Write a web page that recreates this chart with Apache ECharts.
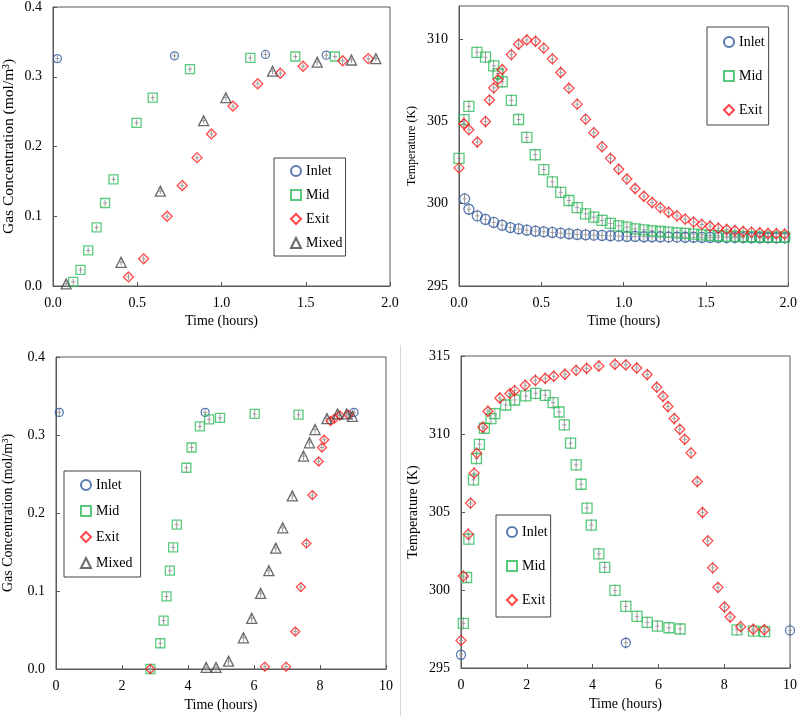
<!DOCTYPE html>
<html>
<head>
<meta charset="utf-8">
<script src="https://cdn.jsdelivr.net/npm/echarts@6/dist/echarts.min.js"></script>
<style>
    html, body { margin: 0; padding: 0; background: #fff; }
    #chart { width: 800px; height: 716px; }
</style>
</head>
<body>
<div id="chart"></div>
<script>
// ---- panel 1 : gas concentration, 0-2 h ----
const p1InletT = [0.026, 0.721, 1.261, 1.622];
const p1InletY = [0.326, 0.330, 0.332, 0.331];
const p1MidT = [0.12, 0.163, 0.209, 0.259, 0.309, 0.359, 0.496, 0.592, 0.813, 1.171, 1.438, 1.673];
const p1MidY = [0.006, 0.023, 0.051, 0.084, 0.119, 0.153, 0.234, 0.270, 0.311, 0.327, 0.329, 0.329];
const p1ExitT = [0.448, 0.538, 0.677, 0.767, 0.855, 0.94, 1.068, 1.215, 1.349, 1.484, 1.719, 1.871];
const p1ExitY = [0.013, 0.039, 0.100, 0.144, 0.184, 0.218, 0.258, 0.290, 0.305, 0.315, 0.323, 0.326];
const p1MixedT = [0.078, 0.404, 0.637, 0.894, 1.026, 1.303, 1.568, 1.771, 1.916];
const p1MixedY = [0.003, 0.034, 0.136, 0.237, 0.270, 0.308, 0.321, 0.324, 0.326];

// ---- panel 2 : temperature, 0-2 h ----
const p2InletT = [0.034, 0.06, 0.111, 0.161, 0.211, 0.262, 0.312, 0.362, 0.412, 0.465, 0.515, 0.567, 0.618, 0.668, 0.718, 0.769, 0.819, 0.869, 0.92, 0.97,
    1.02, 1.07, 1.123, 1.173, 1.223, 1.273, 1.324, 1.374, 1.425, 1.475, 1.525, 1.575, 1.626, 1.676, 1.726, 1.777, 1.827, 1.877, 1.928, 1.978];
const p2InletY = [300.29, 299.66, 299.26, 299.04, 298.86, 298.69, 298.55, 298.47, 298.39, 298.33, 298.29, 298.25, 298.21, 298.17, 298.13, 298.11, 298.09, 298.07, 298.05, 298.03,
    298.01, 298.01, 297.99, 297.99, 297.98, 297.97, 297.97, 297.96, 297.96, 297.95, 297.95, 297.95, 297.94, 297.94, 297.94, 297.93, 297.93, 297.93, 297.93, 297.93];
const p2MidT = [0, 0.03, 0.06, 0.109, 0.161, 0.211, 0.237, 0.262, 0.318, 0.362, 0.412, 0.463, 0.515, 0.567, 0.618, 0.668, 0.718, 0.769, 0.819, 0.869, 0.92,
    0.97, 1.02, 1.07, 1.123, 1.173, 1.223, 1.273, 1.324, 1.374, 1.425, 1.475, 1.525, 1.575, 1.626, 1.676, 1.726, 1.777, 1.827, 1.877, 1.928, 1.978];
const p2MidY = [302.75, 305.1, 305.9, 309.19, 308.89, 308.37, 307.9, 307.4, 306.27, 305.11, 304.02, 302.97, 302.07, 301.32, 300.69, 300.19, 299.76, 299.38, 299.18, 298.98, 298.8,
    298.65, 298.57, 298.47, 298.41, 298.35, 298.31, 298.27, 298.23, 298.19, 298.15, 298.11, 298.07, 298.05, 298.03, 298.01, 298.0, 297.99, 297.98, 297.97, 297.97, 297.96];
const p2ExitT = [0, 0.03, 0.06, 0.111, 0.161, 0.185, 0.211, 0.237, 0.262, 0.318, 0.362, 0.412, 0.465, 0.515, 0.567, 0.618, 0.668, 0.718, 0.769, 0.819, 0.869, 0.92,
    0.97, 1.02, 1.07, 1.123, 1.173, 1.223, 1.273, 1.324, 1.374, 1.425, 1.475, 1.525, 1.575, 1.626, 1.676, 1.726, 1.777, 1.827, 1.877, 1.928, 1.978];
const p2ExitY = [302.17, 304.85, 304.49, 303.74, 304.99, 306.29, 307.03, 307.54, 308.14, 309.05, 309.68, 309.94, 309.86, 309.44, 308.79, 307.96, 307.01, 306.04, 305.13, 304.31, 303.46, 302.75,
    302.09, 301.5, 300.92, 300.45, 300.07, 299.76, 299.48, 299.26, 299.06, 298.88, 298.74, 298.63, 298.51, 298.43, 298.37, 298.31, 298.27, 298.23, 298.19, 298.17, 298.15];

// ---- panel 3 : gas concentration, 0-10 h ----
const p3InletT = [0.1, 4.52, 9.03];
const p3InletY = [0.329, 0.329, 0.329];
const p3MidT = [2.86, 3.16, 3.26, 3.35, 3.45, 3.55, 3.66, 3.95, 4.11, 4.36, 4.64, 4.97, 6.02, 7.35];
const p3MidY = [0.0, 0.033, 0.062, 0.093, 0.126, 0.156, 0.185, 0.258, 0.284, 0.311, 0.320, 0.322, 0.327, 0.326];
const p3ExitT = [2.86, 6.33, 6.97, 7.25, 7.42, 7.59, 7.77, 7.96, 8.06, 8.13, 8.32, 8.44, 8.6, 8.86];
const p3ExitY = [0.0, 0.003, 0.003, 0.048, 0.105, 0.161, 0.223, 0.266, 0.284, 0.294, 0.318, 0.321, 0.325, 0.326];
const p3MixedT = [4.55, 4.85, 5.23, 5.68, 5.93, 6.2, 6.45, 6.66, 6.87, 7.16, 7.5, 7.68, 7.85, 8.21, 8.53, 8.81, 8.98];
const p3MixedY = [0.002, 0.002, 0.010, 0.040, 0.065, 0.097, 0.126, 0.155, 0.181, 0.222, 0.273, 0.290, 0.307, 0.321, 0.327, 0.327, 0.324];

// ---- panel 4 : temperature, 0-10 h ----
const p4InletT = [0, 5.01, 10];
const p4InletY = [295.85, 296.62, 297.41];
const p4MidT = [0.07, 0.17, 0.24, 0.38, 0.47, 0.56, 0.71, 0.91, 1.03, 1.36, 1.63, 1.97, 2.27, 2.56, 2.8, 2.98, 3.14, 3.33, 3.5, 3.65,
    3.83, 3.96, 4.19, 4.37, 4.68, 5.01, 5.35, 5.66, 5.97, 6.32, 6.66, 8.39, 8.89, 9.23];
const p4MidY = [297.86, 300.8, 303.26, 307.06, 308.43, 309.34, 310.37, 310.99, 311.31, 311.86, 312.18, 312.44, 312.61, 312.48, 312.01, 311.41, 310.58, 309.41, 308.02, 306.78,
    305.25, 304.16, 302.32, 301.45, 299.97, 298.95, 298.31, 297.92, 297.69, 297.58, 297.5, 297.45, 297.37, 297.33];
const p4ExitT = [0, 0.07, 0.22, 0.29, 0.4, 0.48, 0.66, 0.82, 1.18, 1.49, 1.63, 1.95, 2.26, 2.56, 2.82, 3.16, 3.5, 3.82, 4.19, 4.68,
    5.01, 5.34, 5.66, 5.95, 6.14, 6.29, 6.48, 6.65, 6.8, 6.99, 7.18, 7.34, 7.5, 7.65, 7.81, 8.01, 8.18, 8.5, 8.88, 9.22];
const p4ExitY = [296.77, 300.89, 303.58, 305.57, 307.49, 308.77, 310.43, 311.46, 312.31, 312.59, 312.78, 313.12, 313.44, 313.57, 313.7, 313.83, 314.08, 314.21, 314.36, 314.47,
    314.43, 314.23, 313.81, 313.0, 312.42, 311.76, 310.99, 310.3, 309.66, 308.79, 306.95, 304.97, 303.15, 301.42, 300.17, 298.91, 298.27, 297.65, 297.48, 297.45];

const FONT = '"Liberation Serif", "Times New Roman", serif';
const AXIS_COLOR = '#595959';
const colors = { Inlet: '#30589c', Mid: '#2fbd5c', Exit: '#ff1a1a', Mixed: '#454545' };
const symbols = { Inlet: 'circle', Mid: 'rect', Exit: 'diamond', Mixed: 'triangle' };

function zip(xs, ys) {
    return xs.map(function (x, i) { return [x, ys[i]]; });
}

// scatter with hollow marker + small gray error bar drawn through it
function markers(name, idx, xs, ys, size, barHalf) {
    const data = zip(xs, ys);
    return [
        {
            name: name + ' err', type: 'custom', xAxisIndex: idx, yAxisIndex: idx, silent: true, z: 1,
            data: data,
            renderItem: function (params, api) {
                const p = api.coord([api.value(0), api.value(1)]);
                const st = { stroke: '#9a9a9a', lineWidth: 1 };
                return {
                    type: 'group', children: [
                        { type: 'line', shape: { x1: p[0], y1: p[1] - barHalf, x2: p[0], y2: p[1] + barHalf }, style: st },
                        { type: 'line', shape: { x1: p[0] - 2, y1: p[1], x2: p[0] + 2, y2: p[1] }, style: st }
                    ]
                };
            }
        },
        {
            name: name, type: 'scatter', xAxisIndex: idx, yAxisIndex: idx, z: 2,
            symbol: symbols[name], symbolSize: size,
            itemStyle: { color: 'rgba(255,255,255,0)', borderColor: colors[name], borderWidth: 1.3 },
            data: data
        }
    ];
}

function xAx(idx, max, interval, dec, nameGap) {
    return {
        gridIndex: idx, type: 'value', min: 0, max: max, interval: interval,
        name: 'Time (hours)', nameLocation: 'middle', nameGap: nameGap,
        nameTextStyle: { fontFamily: FONT, fontSize: 14, color: '#000' },
        axisLine: { lineStyle: { color: AXIS_COLOR } },
        axisTick: { inside: true, length: 4, lineStyle: { color: AXIS_COLOR } },
        axisLabel: { fontFamily: FONT, fontSize: 14, color: '#000', margin: 10,
            formatter: function (v) { return v.toFixed(dec); } },
        splitLine: { show: false }
    };
}

function yAx(idx, min, max, interval, dec, name, nameSize, nameGap) {
    return {
        gridIndex: idx, type: 'value', min: min, max: max, interval: interval,
        name: name, nameLocation: 'middle', nameGap: nameGap,
        nameTextStyle: { fontFamily: FONT, fontSize: nameSize, color: '#000' },
        axisLine: { lineStyle: { color: AXIS_COLOR } },
        axisTick: { inside: true, length: 4, lineStyle: { color: AXIS_COLOR } },
        axisLabel: { fontFamily: FONT, fontSize: 14, color: '#000', margin: 11, showMaxLabel: max % interval === 0,
            formatter: function (v) { return v.toFixed(dec); } },
        splitLine: { show: false }
    };
}

function legendBox(names, left, top, gap, padding) {
    return {
        orient: 'vertical', left: left, top: top, data: names,
        itemWidth: 10, itemHeight: 10, itemGap: gap, padding: padding,
        borderColor: '#404040', borderWidth: 1, selectedMode: false,
        textStyle: { fontFamily: FONT, fontSize: 14, color: '#000' }
    };
}

const gridBase = { show: true, borderColor: AXIS_COLOR, borderWidth: 1, backgroundColor: 'transparent' };

const series = [].concat(
    markers('Inlet', 0, p1InletT, p1InletY, 8, 3),
    markers('Mid', 0, p1MidT, p1MidY, 9, 3),
    markers('Exit', 0, p1ExitT, p1ExitY, 10, 3),
    markers('Mixed', 0, p1MixedT, p1MixedY, 10, 3),
    markers('Inlet', 1, p2InletT, p2InletY, 10, 6),
    markers('Mid', 1, p2MidT, p2MidY, 10, 6),
    markers('Exit', 1, p2ExitT, p2ExitY, 10, 6),
    markers('Inlet', 2, p3InletT, p3InletY, 8, 4),
    markers('Mid', 2, p3MidT, p3MidY, 9, 4),
    markers('Exit', 2, p3ExitT, p3ExitY, 9, 4),
    markers('Mixed', 2, p3MixedT, p3MixedY, 10, 4),
    markers('Inlet', 3, p4InletT, p4InletY, 9, 6),
    markers('Mid', 3, p4MidT, p4MidY, 10, 6),
    markers('Exit', 3, p4ExitT, p4ExitY, 10, 6)
);

const option = {
    animation: false,
    backgroundColor: '#fff',
    grid: [
        Object.assign({ left: 52, top: 6, width: 338, height: 280 }, gridBase),
        Object.assign({ left: 459, top: 6, width: 332, height: 280 }, gridBase),
        Object.assign({ left: 55, top: 357, width: 331, height: 312 }, gridBase),
        Object.assign({ left: 461, top: 356, width: 331, height: 312 }, gridBase)
    ],
    xAxis: [
        xAx(0, 2, 0.5, 1, 28),
        xAx(1, 2, 0.5, 1, 28),
        xAx(2, 10, 2, 0, 29),
        xAx(3, 10, 2, 0, 29)
    ],
    yAxis: [
        yAx(0, 0, 0.4, 0.1, 1, 'Gas Concentration (mol/m³)', 15.5, 36),
        yAx(1, 295, 312, 5, 0, 'Temperature (K)', 12, 41),
        yAx(2, 0, 0.4, 0.1, 1, 'Gas Concentration (mol/m³)', 14, 41),
        yAx(3, 295, 315, 5, 0, 'Temperature (K)', 14, 41)
    ],
    legend: [
        legendBox(['Inlet', 'Mid', 'Exit', 'Mixed'], 274, 158, 10, [6, 3, 6, 16]),
        legendBox(['Inlet', 'Mid', 'Exit'], 707, 27, 20, [8, 4, 8, 16]),
        legendBox(['Inlet', 'Mid', 'Exit', 'Mixed'], 64, 471, 12, [7, 8, 7, 16]),
        legendBox(['Inlet', 'Mid', 'Exit'], 496, 515, 20, [10, 3, 10, 10])
    ],
    graphic: [
        { type: 'line', shape: { x1: 400.5, y1: 345, x2: 400.5, y2: 716 }, style: { stroke: '#d6d6d6', lineWidth: 1 } }
    ],
    series: series
};

const myChart = echarts.init(document.getElementById('chart'));
myChart.setOption(option);
</script>
</body>
</html>
